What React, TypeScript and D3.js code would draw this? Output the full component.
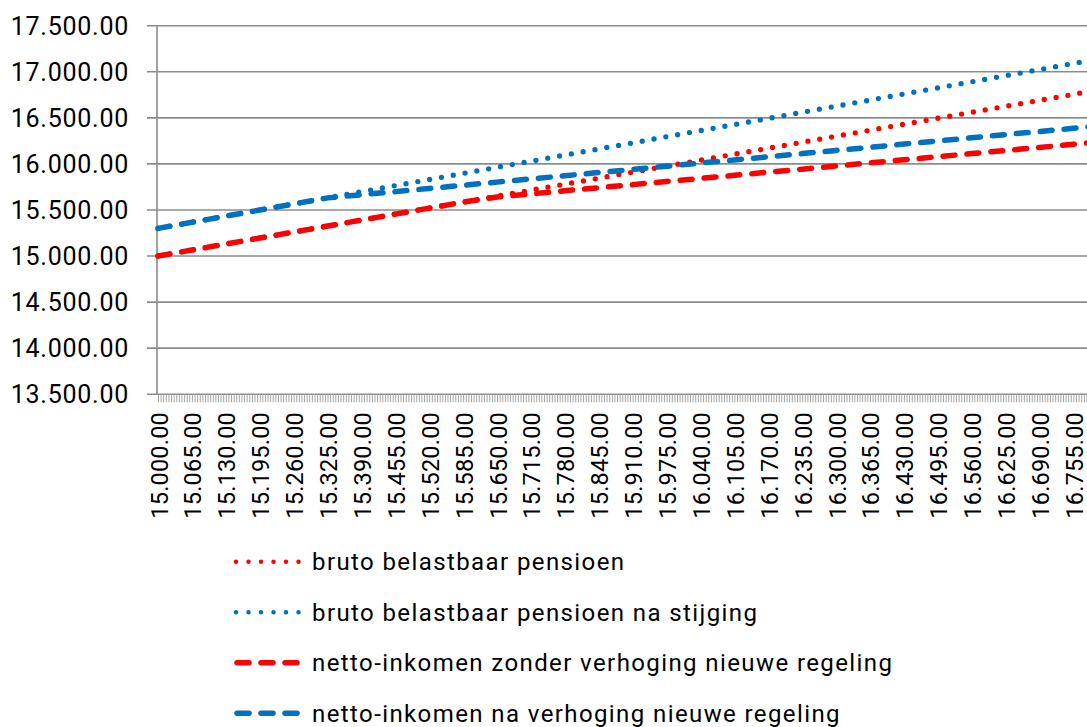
import React, { useEffect, useRef } from "react";
import * as d3 from "d3";

// Category positions read at each labelled x category
const categories = [
  15000, 15065, 15130, 15195, 15260, 15325, 15390, 15455, 15520, 15585,
  15650, 15715, 15780, 15845, 15910, 15975, 16040, 16105, 16170, 16235,
  16300, 16365, 16430, 16495, 16560, 16625, 16690, 16755, 16820,
];

const brutoPensioen = [
  15000, 15065, 15130, 15195, 15260, 15325, 15390, 15455, 15520, 15585,
  15650, 15715, 15780, 15845, 15910, 15975, 16040, 16105, 16170, 16235,
  16300, 16365, 16430, 16495, 16560, 16625, 16690, 16755, 16820,
];

const brutoNaStijging = [
  15300, 15366, 15433, 15499, 15565, 15632, 15698, 15764, 15830, 15897,
  15963, 16029, 16096, 16162, 16228, 16295, 16361, 16427, 16493, 16560,
  16626, 16692, 16759, 16825, 16891, 16958, 17024, 17090, 17156,
];

const nettoZonder = [
  15000, 15065, 15130, 15195, 15260, 15325, 15390, 15455, 15520, 15585,
  15640, 15674, 15708, 15741, 15775, 15809, 15842, 15876, 15910, 15943,
  15977, 16011, 16044, 16078, 16112, 16145, 16179, 16213, 16246,
];

const nettoNa = [
  15300, 15366, 15433, 15499, 15565, 15631, 15665, 15699, 15734, 15768,
  15802, 15837, 15871, 15906, 15940, 15974, 16009, 16043, 16077, 16112,
  16146, 16180, 16215, 16249, 16283, 16318, 16352, 16386, 16421,
];

const yTicks = [13500, 14000, 14500, 15000, 15500, 16000, 16500, 17000, 17500];

const seriesNames = [
  "bruto belastbaar pensioen",
  "bruto belastbaar pensioen na stijging",
  "netto-inkomen zonder verhoging nieuwe regeling",
  "netto-inkomen na verhoging nieuwe regeling",
];
const seriesColors = ["#ff0000", "#0070c0", "#ff0000", "#0070c0"];
const seriesStyles = ["dot", "dot", "dash", "dash"];
const seriesValues = [brutoPensioen, brutoNaStijging, nettoZonder, nettoNa];

const W = 1087;
const H = 727;
const FONT = "Roboto, 'Noto Sans', sans-serif";

const fmt = (v: number) => {
  const s = Math.round(v).toString();
  const withDots = s.replace(/\B(?=(\d{3})+(?!\d))/g, ".");
  return withDots + ".00";
};

export default function App() {
  const ref = useRef<SVGSVGElement | null>(null);

  useEffect(() => {
    const svg = d3.select(ref.current);
    svg.selectAll("*").remove();

    const x = d3.scaleLinear().domain([15000, 17000]).range([158, 158 + 400 * 2.608]);
    const y = d3.scaleLinear().domain([13500, 17500]).range([394.2, 25.7]);

    const axisColor = "#8c8c8c";
    const tickColor = "#a6a6a6";

    // gridlines + y ticks
    svg
      .append("g")
      .selectAll("line")
      .data(yTicks)
      .join("line")
      .attr("x1", 147)
      .attr("x2", W + 10)
      .attr("y1", (d) => y(d))
      .attr("y2", (d) => y(d))
      .attr("stroke", axisColor)
      .attr("stroke-width", 1.6);

    // y axis line
    svg
      .append("line")
      .attr("x1", 157)
      .attr("x2", 157)
      .attr("y1", y(17500))
      .attr("y2", y(13500))
      .attr("stroke", axisColor)
      .attr("stroke-width", 1.6);

    // y labels
    svg
      .append("g")
      .selectAll("text")
      .data(yTicks)
      .join("text")
      .attr("x", 129)
      .attr("y", (d) => y(d))
      .attr("dy", "0.36em")
      .attr("text-anchor", "end")
      .attr("font-family", FONT)
      .attr("font-size", 25)
      .attr("letter-spacing", 0.75)
      .attr("fill", "#000")
      .text((d) => fmt(d));

    // minor category ticks on x axis
    const xAxis = d3
      .axisBottom(x)
      .tickValues(d3.range(15000, 17001, 5))
      .tickSize(8)
      .tickSizeOuter(0)
      .tickFormat(() => "");
    const gx = svg
      .append("g")
      .attr("transform", `translate(0,${y(13500)})`)
      .call(xAxis);
    gx.select(".domain").remove();
    gx.selectAll(".tick line").attr("stroke", tickColor).attr("stroke-width", 1);

    // x labels (only those inside the visible area)
    svg
      .append("g")
      .selectAll("text")
      .data(categories.filter((d) => x(d) < W - 5))
      .join("text")
      .attr("transform", (d) => `translate(${x(d) + 9.5},412) rotate(-90)`)
      .attr("text-anchor", "end")
      .attr("font-family", FONT)
      .attr("font-size", 23.5)
      .attr("letter-spacing", 0.2)
      .attr("fill", "#000")
      .text((d) => fmt(d));

    // series lines
    const line = d3
      .line<number>()
      .x((_, i) => x(categories[i]))
      .y((d) => y(d));

    seriesValues.forEach((vals, si) => {
      const isDot = seriesStyles[si] === "dot";
      svg
        .append("path")
        .datum(vals)
        .attr("d", line)
        .attr("fill", "none")
        .attr("stroke", seriesColors[si])
        .attr("stroke-width", isDot ? 5.3 : 5.5)
        .attr("stroke-linecap", "round")
        .attr("stroke-dasharray", isDot ? "0 12" : "12 12");
    });

    // legend
    const lg = svg.append("g");
    seriesNames.forEach((name, i) => {
      const cy = 561.7 + i * 50.5;
      const isDot = seriesStyles[i] === "dot";
      lg.append("line")
        .attr("x1", isDot ? 236 : 237)
        .attr("x2", 300)
        .attr("y1", cy)
        .attr("y2", cy)
        .attr("stroke", seriesColors[i])
        .attr("stroke-width", isDot ? 4.5 : 5.5)
        .attr("stroke-linecap", "round")
        .attr("stroke-dasharray", isDot ? "0 12.5" : "12 12");
      lg.append("text")
        .attr("x", 312)
        .attr("y", cy)
        .attr("dy", "0.36em")
        .attr("font-family", FONT)
        .attr("font-size", 24)
        .attr("letter-spacing", 1.4)
        .attr("fill", "#000")
        .text(name);
    });
  }, []);

  return (
    <div style={{ position: "absolute", left: 0, top: 0 }}>
      <svg ref={ref} width={W} height={H} style={{ display: "block", background: "#fff" }} />
    </div>
  );
}
